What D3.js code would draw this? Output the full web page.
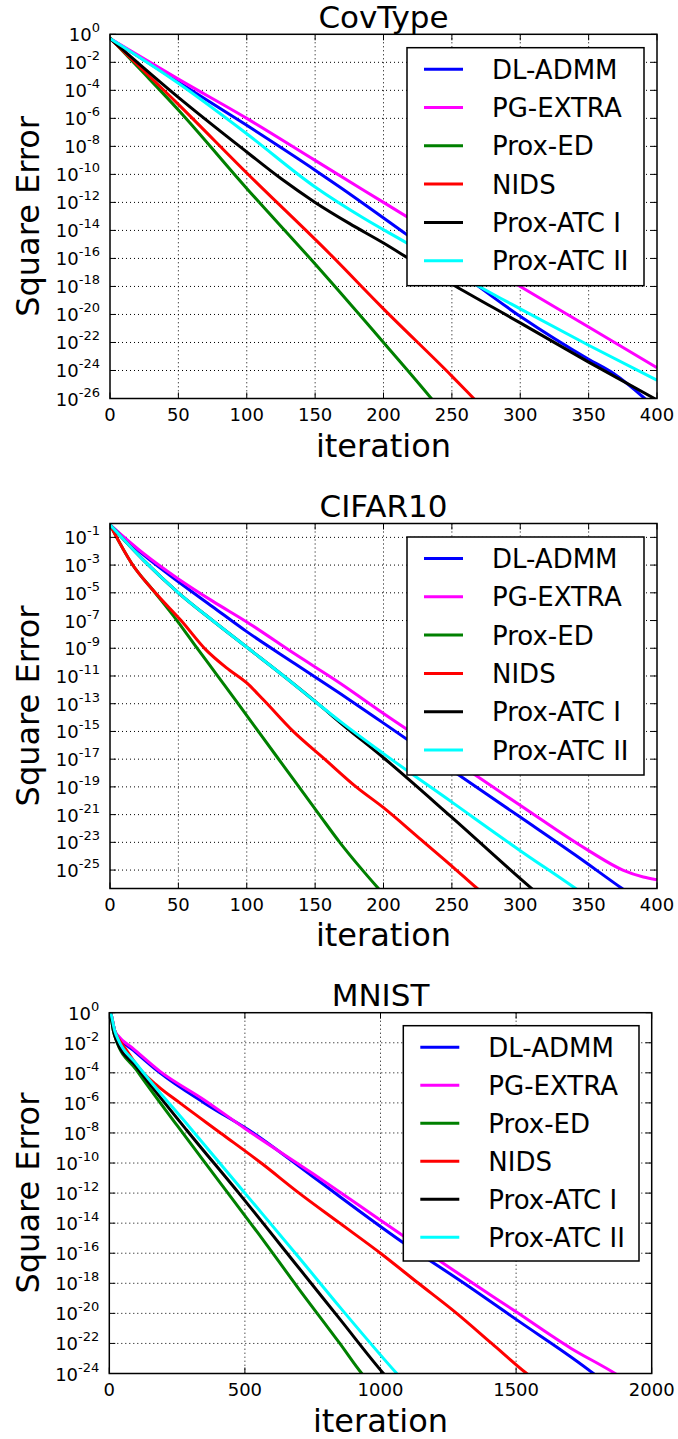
<!DOCTYPE html>
<html>
<head>
<meta charset="utf-8">
<script src="https://cdn.jsdelivr.net/npm/d3@7/dist/d3.min.js"></script>
<style>
  body { margin: 0; background: #fff; }
  svg text { font-family: "DejaVu Sans", sans-serif; fill: #000; }
</style>
</head>
<body>
<svg id="fig" width="678" height="1439"></svg>
<script>
// legend entries, same order in every panel
const methods = ["DL-ADMM", "PG-EXTRA", "Prox-ED", "NIDS", "Prox-ATC I", "Prox-ATC II"];
const colors = ["#0000ff", "#ff00ff", "#008000", "#ff0000", "#000000", "#00ffff"];

// each point: [iteration, log10(square error)]
// CovType
const covAdmm = [[0,-0.3],[50,-3.4],[100,-6.5],[150,-9.7],[168,-10.9],[217,-14.3],[250,-16.6],[301,-20.2],[350,-23.2],[368,-24.2],[391,-26],[400,-26.8]];
const covExtra = [[0,-0.3],[50,-3.2],[100,-6.0],[150,-9.0],[200,-12.0],[250,-15.0],[300,-18.0],[350,-20.9],[400,-23.8]];
const covEd = [[0,-0.25],[25,-2.8],[50,-5.4],[100,-11.0],[150,-16.4],[200,-22.0],[235,-26.0],[245,-27.2]];
const covNids = [[0,-0.3],[50,-5.0],[100,-9.9],[161,-15.7],[200,-19.6],[250,-24.4],[266,-26.0],[275,-26.9]];
const covAtc1 = [[0,-0.3],[50,-4.5],[100,-8.4],[125,-10.3],[150,-12.0],[175,-13.5],[200,-14.9],[225,-16.4],[253,-18.0],[300,-20.6],[350,-23.4],[400,-26.1]];
const covAtc2 = [[0,-0.3],[50,-3.5],[100,-7.1],[150,-10.9],[185,-13.1],[217,-14.9],[270,-18.0],[300,-19.6],[350,-22.2],[400,-24.7]];

// CIFAR10
const cifAdmm = [[0,-0.1],[25,-2.3],[50,-4.2],[75,-6.0],[100,-7.8],[135,-10.1],[168,-12.25],[200,-14.4],[250,-17.8],[301,-21.25],[340,-23.9],[374,-26.3],[390,-27.4]];
const cifExtra = [[0,-0.1],[25,-2.2],[50,-4.0],[75,-5.6],[100,-7.1],[135,-9.4],[168,-11.5],[200,-13.7],[250,-17.0],[301,-20.4],[350,-23.6],[375,-25.0],[390,-25.5],[400,-25.7]];
const cifEd = [[0,-0.1],[16,-2.9],[33,-5.0],[49,-7.0],[63,-8.9],[78,-10.9],[93,-12.9],[107,-14.8],[130,-17.9],[153,-21],[168,-23],[182,-24.7],[196,-26.3],[205,-27.3]];
const cifNids = [[0,-0.1],[16,-2.9],[35,-5.2],[52,-7],[70,-9.1],[85,-10.4],[100,-11.5],[112,-12.7],[134,-15],[157,-17],[180,-19],[200,-20.5],[225,-22.6],[251,-24.8],[267,-26.2],[280,-27.3]];
const cifAtc1 = [[0,-0.1],[25,-2.7],[50,-5],[75,-7],[101,-9],[127,-11],[152,-13],[170,-14.5],[200,-16.9],[250,-21.2],[308,-26.3],[320,-27.3]];
const cifAtc2 = [[0,-0.1],[25,-2.7],[50,-5],[75,-7],[101,-9],[127,-11],[152,-13],[170,-14.4],[200,-16.6],[250,-20.1],[300,-23.6],[340,-26.3],[350,-27]];

// MNIST
const mnAdmm = [[0,0.3],[8,-0.2],[20,-1.2],[33,-1.6],[89,-2.5],[187,-4],[350,-6.0],[531,-8],[750,-10.9],[1084,-15.3],[1300,-17.9],[1500,-20.4],[1785,-24],[1820,-24.5]];
const mnExtra = [[0,0.3],[8,-0.2],[20,-1.2],[33,-1.55],[89,-2.4],[187,-3.9],[350,-5.8],[500,-7.7],[750,-10.7],[1000,-13.8],[1250,-16.9],[1500,-19.9],[1700,-22.3],[1865,-24],[1900,-24.4]];
const mnEd = [[0,0.3],[6,-0.2],[15,-1.2],[25,-1.8],[100,-3.8],[250,-7.5],[400,-11.1],[550,-14.7],[700,-18.4],[850,-22.0],[931,-24],[960,-24.6]];
const mnNids = [[0,0.3],[8,-0.2],[20,-1.2],[33,-1.7],[60,-2.4],[90,-3.2],[120,-3.9],[180,-4.9],[260,-6],[410,-8],[560,-10],[700,-12],[850,-14],[1000,-16],[1140,-18],[1281,-20],[1410,-22],[1539,-24],[1560,-24.3]];
const mnAtc1 = [[0,0.3],[6,-0.2],[15,-1.2],[25,-1.8],[100,-3.6],[285,-7.8],[482,-12.1],[700,-17],[851,-20.4],[1011,-24],[1040,-24.6]];
const mnAtc2 = [[0,0.3],[8,-0.2],[20,-1.2],[33,-1.8],[100,-3.4],[300,-7.7],[500,-12.0],[700,-16.3],[851,-19.6],[1060,-24],[1090,-24.6]];

// axis ticks
const xTicks400 = [0, 50, 100, 150, 200, 250, 300, 350, 400];
const xTicks2000 = [0, 500, 1000, 1500, 2000];
const yTicksCov = [0, -2, -4, -6, -8, -10, -12, -14, -16, -18, -20, -22, -24, -26];
const yTicksCif = [-1, -3, -5, -7, -9, -11, -13, -15, -17, -19, -21, -23, -25];
const yTicksMn = [0, -2, -4, -6, -8, -10, -12, -14, -16, -18, -20, -22, -24];

const svg = d3.select("#fig");

const panels = [
  { id: "cov", title: "CovType", l: 110, r: 657, t: 34.3, b: 398.5, xMax: 400, yMin: -26,
    xTicks: xTicks400, yTicks: yTicksCov, series: [covAdmm, covExtra, covEd, covNids, covAtc1, covAtc2],
    leg: { x: 407, y: 47.7, w: 237, h: 238, row: 38.3 }, xlabY: 457 },
  { id: "cif", title: "CIFAR10", l: 110, r: 657, t: 523.5, b: 888.5, xMax: 400, yMin: -26.33,
    xTicks: xTicks400, yTicks: yTicksCif, series: [cifAdmm, cifExtra, cifEd, cifNids, cifAtc1, cifAtc2],
    leg: { x: 407, y: 537, w: 237, h: 238, row: 38.3 }, xlabY: 946 },
  { id: "mn", title: "MNIST", l: 109.3, r: 651.7, t: 1012.7, b: 1373.5, xMax: 2000, yMin: -24,
    xTicks: xTicks2000, yTicks: yTicksMn, series: [mnAdmm, mnExtra, mnEd, mnNids, mnAtc1, mnAtc2],
    leg: { x: 403.3, y: 1025.7, w: 235.7, h: 235.3, row: 38 }, xlabY: 1432 }
];

panels.forEach(p => {
  const x = d3.scaleLinear().domain([0, p.xMax]).range([p.l, p.r]);
  const y = d3.scaleLog().domain([1, Math.pow(10, p.yMin)]).range([p.t, p.b]);
  const g = svg.append("g");

  g.append("clipPath").attr("id", "clip-" + p.id)
    .append("rect").attr("x", p.l).attr("y", p.t).attr("width", p.r - p.l).attr("height", p.b - p.t);

  // grid
  g.selectAll(".gx").data(p.xTicks.slice(1, -1)).enter().append("line")
    .attr("x1", d => x(d)).attr("x2", d => x(d)).attr("y1", p.t).attr("y2", p.b)
    .attr("stroke", "#000").attr("stroke-width", 1).attr("stroke-dasharray", "1,3");
  g.selectAll(".gy").data(p.yTicks.filter(e => e > p.yMin && e < 0)).enter().append("line")
    .attr("x1", p.l).attr("x2", p.r).attr("y1", e => y(Math.pow(10, e))).attr("y2", e => y(Math.pow(10, e)))
    .attr("stroke", "#000").attr("stroke-width", 1).attr("stroke-dasharray", "1,3");

  // curves
  const line = d3.line()
    .x(d => x(d[0]))
    .y(d => y(Math.pow(10, d[1])))
    .curve(d3.curveMonotoneX);
  const lines = g.append("g").attr("clip-path", "url(#clip-" + p.id + ")");
  p.series.forEach((s, i) => {
    lines.append("path").datum(s).attr("d", line)
      .attr("fill", "none").attr("stroke", colors[i]).attr("stroke-width", 3)
      .attr("stroke-linejoin", "round");
  });

  // ticks, inward on all four sides
  const tk = 6;
  p.xTicks.forEach(v => {
    g.append("line").attr("x1", x(v)).attr("x2", x(v)).attr("y1", p.b).attr("y2", p.b - tk).attr("stroke", "#000");
    g.append("line").attr("x1", x(v)).attr("x2", x(v)).attr("y1", p.t).attr("y2", p.t + tk).attr("stroke", "#000");
    g.append("text").attr("x", x(v)).attr("y", p.b + 22).attr("text-anchor", "middle")
      .attr("font-size", 18).text(v);
  });
  p.yTicks.forEach(e => {
    const yy = y(Math.pow(10, e));
    g.append("line").attr("x1", p.l).attr("x2", p.l + tk).attr("y1", yy).attr("y2", yy).attr("stroke", "#000");
    g.append("line").attr("x1", p.r).attr("x2", p.r - tk).attr("y1", yy).attr("y2", yy).attr("stroke", "#000");
    const t = g.append("text").attr("x", p.l - 10).attr("y", yy + 7).attr("text-anchor", "end").attr("font-size", 18);
    t.append("tspan").text("10");
    t.append("tspan").attr("dy", -9).attr("font-size", 13).text(e === 0 ? "0" : "-" + Math.abs(e));
  });

  // frame
  g.append("rect").attr("x", p.l).attr("y", p.t).attr("width", p.r - p.l).attr("height", p.b - p.t)
    .attr("fill", "none").attr("stroke", "#000").attr("stroke-width", 1.5);

  // labels
  g.append("text").attr("x", (p.l + p.r) / 2).attr("y", p.t - 6.5).attr("text-anchor", "middle")
    .attr("font-size", 31).text(p.title);
  g.append("text").attr("x", (p.l + p.r) / 2).attr("y", p.xlabY).attr("text-anchor", "middle")
    .attr("font-size", 32).text("iteration");
  g.append("text").attr("transform", `translate(38.5,${(p.t + p.b) / 2}) rotate(-90)`)
    .attr("text-anchor", "middle").attr("font-size", 32).text("Square Error");

  // legend
  const lg = g.append("g").attr("transform", `translate(${p.leg.x},${p.leg.y})`);
  lg.append("rect").attr("width", p.leg.w).attr("height", p.leg.h)
    .attr("fill", "#fff").attr("stroke", "#000").attr("stroke-width", 1.5);
  methods.forEach((m, i) => {
    const cy = 21.5 + i * p.leg.row;
    lg.append("line").attr("x1", 17).attr("x2", 56).attr("y1", cy).attr("y2", cy)
      .attr("stroke", colors[i]).attr("stroke-width", 3);
    lg.append("text").attr("x", 85).attr("y", cy + 9.5).attr("font-size", 26).text(m);
  });
});
</script>
</body>
</html>
